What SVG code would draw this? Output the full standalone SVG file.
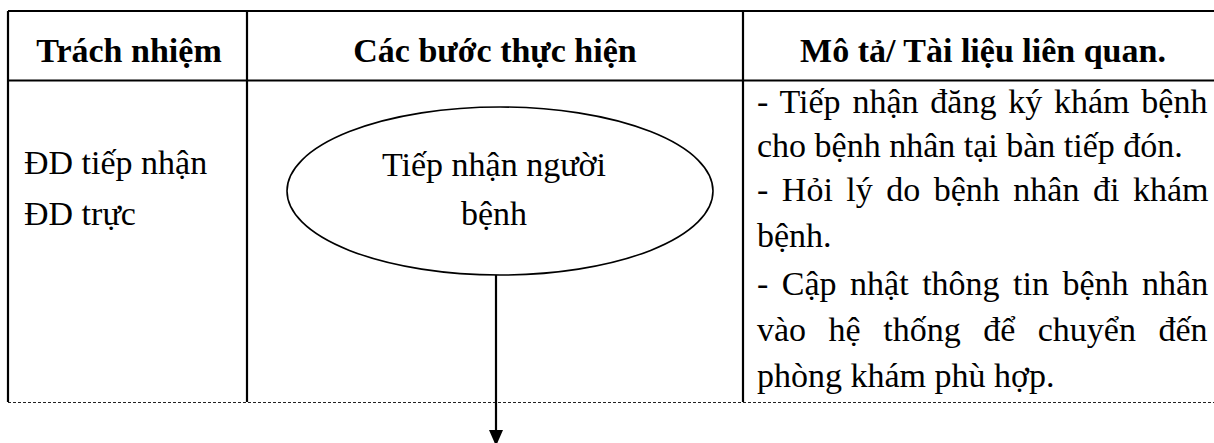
<svg xmlns="http://www.w3.org/2000/svg" width="1214" height="443" viewBox="0 0 1214 443">
<style>
.t{font-family:"Liberation Serif","Times New Roman",serif;font-size:34px;fill:#000}
.h{font-family:"Liberation Serif","Times New Roman",serif;font-size:34px;font-weight:bold;fill:#000;text-anchor:middle}
.b{stroke:#000;stroke-width:2.2;fill:none}
</style>
<defs>
<marker id="ah" viewBox="0 0 16 14" refX="16" refY="7" markerWidth="16" markerHeight="14" markerUnits="userSpaceOnUse" orient="auto">
<path d="M0,0 L16,7 L0,14 Z" fill="#000"/>
</marker>
</defs>
<rect width="1214" height="443" fill="#fff"/>
<g id="table">
<path class="b" d="M8,11 H1214 M8,80.5 H1214 M8,11 V402 M247,11 V402 M743,11 V402"/>
<line x1="8" y1="402.5" x2="1214" y2="402.5" stroke="#222" stroke-width="1.2" stroke-dasharray="3,2"/>
</g>
<g id="header">
<text class="h" x="129" y="62">Trách nhiệm</text>
<text class="h" x="495" y="62">Các bước thực hiện</text>
<text class="h" x="983" y="62">Mô tả/ Tài liệu liên quan.</text>
</g>
<g id="responsible">
<text class="t" x="24" y="174">ĐD tiếp nhận</text>
<text class="t" x="24" y="225">ĐD trực</text>
</g>
<g id="node-tiep-nhan">
<ellipse cx="500" cy="191" rx="213" ry="84" fill="none" stroke="#000" stroke-width="1.6"/>
<text class="t" x="494" y="176" text-anchor="middle">Tiếp nhận người</text>
<text class="t" x="494" y="225" text-anchor="middle">bệnh</text>
</g>
<g id="description">
<text class="t" x="757" y="113" style="word-spacing:3.3px">- Tiếp nhận đăng ký khám bệnh</text>
<text class="t" x="757" y="157">cho bệnh nhân tại bàn tiếp đón.</text>
<text class="t" x="757" y="201" style="word-spacing:5px">- Hỏi lý do bệnh nhân đi khám</text>
<text class="t" x="757" y="247">bệnh.</text>
<text class="t" x="757" y="295" style="word-spacing:5px">- Cập nhật thông tin bệnh nhân</text>
<text class="t" x="757" y="341" style="word-spacing:14px">vào hệ thống để chuyển đến</text>
<text class="t" x="757" y="387">phòng khám phù hợp.</text>
</g>
<g id="connectors">
<line x1="496" y1="275" x2="496" y2="446" stroke="#000" stroke-width="2.2" marker-end="url(#ah)"/>
</g>
</svg>
